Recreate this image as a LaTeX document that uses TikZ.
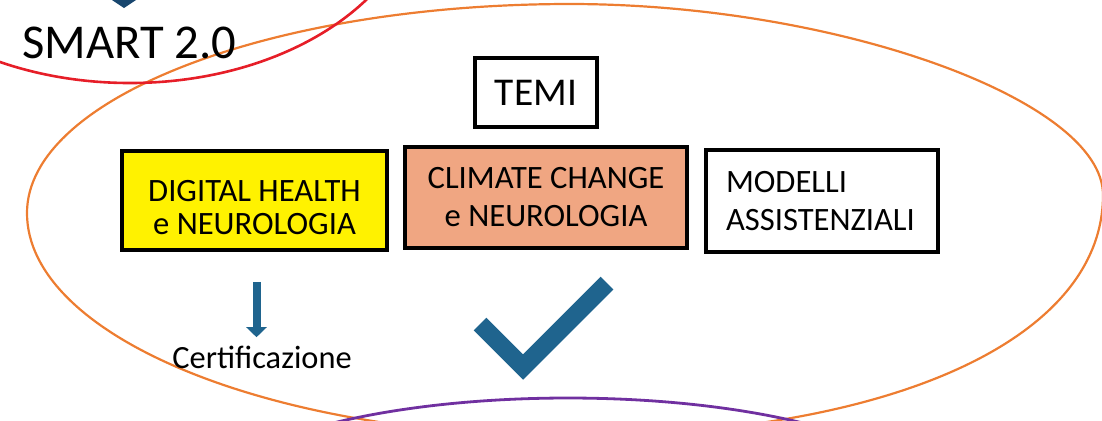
\documentclass[tikz,border=0pt]{standalone}
\usepackage{fontspec}
\setmainfont{Carlito}
\usetikzlibrary{arrows.meta}
\definecolor{ringorange}{RGB}{237,125,49}
\definecolor{ringred}{RGB}{230,30,40}
\definecolor{ringpurple}{RGB}{112,48,160}
\definecolor{checkblue}{RGB}{31,100,142}
\definecolor{darkblue}{RGB}{24,70,110}
\definecolor{salmon}{RGB}{240,166,130}
\tikzset{
  themebox/.style={rectangle,draw=black,line width=1.8pt,inner sep=0pt,align=center},
  ring/.style={line width=1.1pt}
}
\begin{document}
\begin{tikzpicture}[x=0.5pt,y=-0.5pt]
		\useasboundingbox (0,0) rectangle (1102,420);
		\clip (0,0) rectangle (1102,420);
		% rings
		\draw[ring,ringorange] (27,213) .. controls (27,98) and (270,4) .. (570,4)
		  .. controls (836,4) and (1103,100) .. (1103,195)
		  .. controls (1103,340) and (889,436) .. (568,436)
		  .. controls (269,436) and (27,336) .. cycle;
		\draw[ring,ringred,line width=1.3pt] (130,-117) ellipse [x radius=291,y radius=200];
		\draw[ring,ringpurple,line width=1.4pt] (568,508) ellipse [x radius=370,y radius=110];
		\fill[darkblue] (112,0) -- (136,0) -- (124,8) -- cycle;
		\node[anchor=base west,inner sep=0pt,font=\fontsize{24.3}{26}\selectfont] (smart) at (22,58) {SMART 2.0};
		% boxes
		\begin{scope}[every node/.style={themebox,font=\fontsize{16.3}{19}\selectfont}]
		\node[minimum width=61pt,minimum height=34.5pt,font=\fontsize{19.7}{21}\selectfont] (temi) at (536,92.5) {TEMI};
		\node[fill=yellow,minimum width=132.5pt,minimum height=49.5pt,font=\fontsize{16.3}{16.5}\selectfont] (digital) at (254.5,200.5) {\rule{0pt}{18pt}DIGITAL HEALTH\\e NEUROLOGIA};
		\node[fill=salmon,minimum width=141pt,minimum height=50.5pt] (climate) at (546,197.5) {CLIMATE CHANGE\\e NEUROLOGIA};
		\node[fill=white,minimum width=116pt,minimum height=51pt,text width=96pt,align=left] (modelli) at (822,201) {MODELLI\\ASSISTENZIALI};
		\end{scope}
		\node[anchor=base west,inner sep=0pt,font=\fontsize{16.2}{18}\selectfont] (cert) at (172,368) {Certificazione};
		\draw[checkblue,line width=4pt,-{Triangle[width=10pt,length=5pt]},shorten <=15pt,shorten >=4pt] ([xshift=1pt]digital.south) -- ([xshift=1pt]digital.south |- cert.north);
		% check mark
		\draw[checkblue,line width=9pt,line cap=butt,line join=miter] (480,324) -- (523,367) -- (607,283);
\end{tikzpicture}
\end{document}
